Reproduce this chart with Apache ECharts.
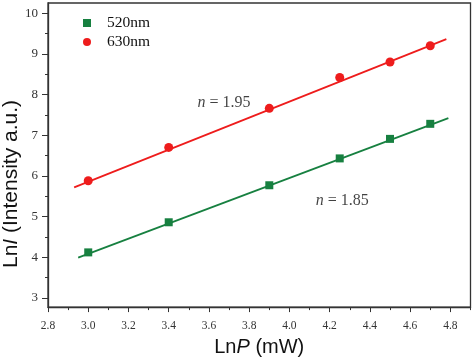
<!DOCTYPE html>
<html>
<head>
<meta charset="utf-8">
<script src="https://cdn.jsdelivr.net/npm/echarts@6/dist/echarts.min.js"></script>
<style>html,body{margin:0;padding:0;background:#fff;}#c{width:474px;height:362px;}</style>
</head>
<body>
<div id="c"></div>
<script>
// ---- data ----
const xValues = [3.0, 3.4, 3.9, 4.25, 4.5, 4.7];
const green520 = [4.12, 4.86, 5.77, 6.43, 6.91, 7.28];
const red630 = [5.88, 6.70, 7.66, 8.42, 8.80, 9.20];
const fitX520 = [2.95, 4.79];
const fitY520 = [3.99, 7.42];
const fitX630 = [2.93, 4.78];
const fitY630 = [5.72, 9.36];
const xTicks = [2.8, 3.0, 3.2, 3.4, 3.6, 3.8, 4.0, 4.2, 4.4, 4.6, 4.8];
const xMinorTicks = [2.9, 3.1, 3.3, 3.5, 3.7, 3.9, 4.1, 4.3, 4.5, 4.7, 4.9];
const yTicks = [3, 4, 5, 6, 7, 8, 9, 10];
const yMinorTicks = [3.5, 4.5, 5.5, 6.5, 7.5, 8.5, 9.5];
const seriesNames = ['520nm', '630nm'];
const annot = [
  { text: '1.95', x: 3.675, y: 7.80 },
  { text: '1.85', x: 4.262, y: 5.40 }
];

const GREEN = '#178040';
const RED = '#ee1c1c';
const AX = '#333333';
const SERIF = '"Liberation Serif", "Times New Roman", serif';
const SANS = '"Liberation Sans", Arial, sans-serif';

const zip = (xs, ys) => xs.map((x, i) => [x, ys[i]]);

const chart = echarts.init(document.getElementById('c'), null, { renderer: 'canvas' });

const xMin = 2.8, xMax = 4.9, yMin = 2.775, yMax = 10.25;

chart.setOption({
  animation: false,
  backgroundColor: '#fff',
  grid: {
    left: 48, right: 3.5, top: 3, bottom: 47.5,
    show: true, borderColor: AX, borderWidth: 1.3, backgroundColor: 'transparent'
  },
  legend: {
    left: 78, top: 10, orient: 'vertical', itemGap: 3,
    itemWidth: 8, itemHeight: 8,
    data: [
      { name: seriesNames[0], icon: 'rect' },
      { name: seriesNames[1], icon: 'circle' }
    ],
    textStyle: { fontFamily: SERIF, fontSize: 15.5, color: '#111', padding: [0, 0, 0, 11] }
  },
  xAxis: [
    {
      type: 'value', min: xMin, max: xMax, position: 'bottom',
      axisLine: { show: true, lineStyle: { color: AX, width: 1.3 } },
      axisTick: { show: true, inside: false, length: 5, customValues: xTicks, lineStyle: { color: AX } },
      axisLabel: { customValues: xTicks, formatter: v => Number(v).toFixed(1), margin: 13,
        fontFamily: SERIF, fontSize: 11.5, color: '#333' },
      splitLine: { show: false },
      name: '{a|Ln}{b|P}{a| (mW)}', nameLocation: 'middle', nameGap: 26,
      nameTextStyle: { rich: {
        a: { fontFamily: SANS, fontSize: 20, color: '#111' },
        b: { fontFamily: SANS, fontSize: 20, fontStyle: 'italic', color: '#111' }
      } }
    },
    {
      type: 'value', min: xMin, max: xMax, position: 'bottom',
      axisLine: { show: false },
      axisTick: { show: true, inside: false, length: 3, customValues: xMinorTicks, lineStyle: { color: AX } },
      axisLabel: { show: false },
      splitLine: { show: false }
    }
  ],
  yAxis: [
    {
      type: 'value', min: yMin, max: yMax, position: 'left',
      axisLine: { show: true, lineStyle: { color: AX, width: 1.3 } },
      axisTick: { show: true, inside: false, length: 6, customValues: yTicks, lineStyle: { color: AX } },
      axisLabel: { customValues: yTicks, margin: 10, fontFamily: SERIF, fontSize: 13, color: '#333' },
      splitLine: { show: false }
    },
    {
      type: 'value', min: yMin, max: yMax, position: 'left',
      axisLine: { show: false },
      axisTick: { show: true, inside: false, length: 3, customValues: yMinorTicks, lineStyle: { color: AX } },
      axisLabel: { show: false },
      splitLine: { show: false }
    }
  ],
  graphic: [
    {
      type: 'text', x: 11, y: 184, rotation: Math.PI / 2,
      style: {
        text: '{a|Ln}{b|I}{a| (Intensity a.u.)}',
        align: 'center', verticalAlign: 'middle',
        rich: {
          a: { fontFamily: SANS, fontSize: 21, fill: '#111' },
          b: { fontFamily: SANS, fontSize: 21, fontStyle: 'italic', fill: '#111' }
        }
      }
    }
  ],
  series: [
    {
      name: 'fit520', type: 'line', data: zip(fitX520, fitY520), showSymbol: false, symbol: 'none',
      lineStyle: { color: GREEN, width: 1.8 }, z: 2, silent: true
    },
    {
      name: 'fit630', type: 'line', data: zip(fitX630, fitY630), showSymbol: false, symbol: 'none',
      lineStyle: { color: RED, width: 1.8 }, z: 2, silent: true
    },
    {
      name: seriesNames[0], type: 'scatter', data: zip(xValues, green520),
      symbol: 'rect', symbolSize: 8, itemStyle: { color: GREEN, opacity: 1 }, z: 3
    },
    {
      name: seriesNames[1], type: 'scatter', data: zip(xValues, red630),
      symbol: 'circle', symbolSize: 9, itemStyle: { color: RED, opacity: 1 }, z: 3
    },
    {
      name: 'annotations', type: 'scatter', symbolSize: 0, silent: true,
      data: annot.map(a => ({ value: [a.x, a.y], valText: a.text })),
      label: {
        show: true, position: 'inside',
        formatter: p => '{i|n}{t| = ' + p.data.valText + '}',
        rich: {
          i: { fontFamily: SERIF, fontSize: 16, fontStyle: 'italic', color: '#111' },
          t: { fontFamily: SERIF, fontSize: 16, color: '#111' }
        }
      }
    }
  ]
});
</script>
</body>
</html>
